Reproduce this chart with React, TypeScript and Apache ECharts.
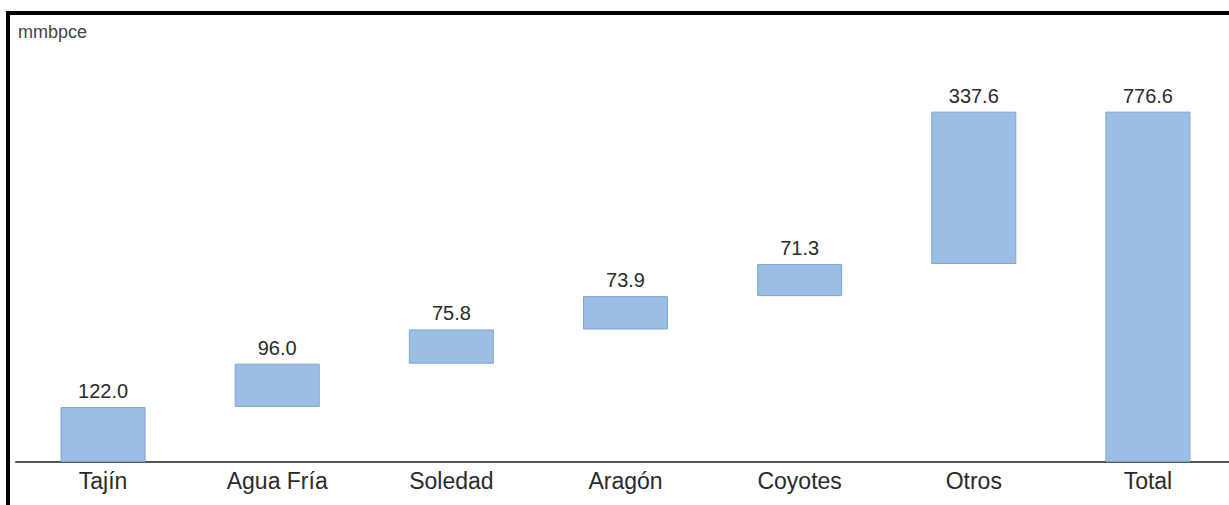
import React, { useEffect, useRef } from "react";
import * as echarts from "echarts";

const categories = ["Tajín", "Agua Fría", "Soledad", "Aragón", "Coyotes", "Otros", "Total"];
const values = [122.0, 96.0, 75.8, 73.9, 71.3, 337.6, 776.6];
const isTotal = [false, false, false, false, false, false, true];
const unitLabel = "mmbpce";

export default function App() {
  const ref = useRef<HTMLDivElement>(null);
  useEffect(() => {
    if (!ref.current) return;
    const chart = echarts.init(ref.current, undefined, { renderer: "svg" });
    const bases: number[] = [];
    let run = 0;
    values.forEach((v, i) => {
      if (isTotal[i]) {
        bases.push(0);
      } else {
        bases.push(run);
        run += v;
      }
    });
    chart.setOption({
      animation: false,
      grid: { left: 16, top: 56, bottom: 43, width: 1219 },
      graphic: [
        { type: "rect", shape: { x: 6, y: 11, width: 1240, height: 4 }, style: { fill: "#000" } },
        { type: "rect", shape: { x: 6, y: 11, width: 4, height: 500 }, style: { fill: "#000" } },
        {
          type: "text",
          left: 18,
          top: 23,
          style: { text: unitLabel, fill: "#444", font: "18px 'Liberation Sans', Arial, sans-serif" },
        },
      ],
      xAxis: {
        type: "category",
        data: categories,
        axisLine: { show: true, lineStyle: { color: "#555", width: 2 } },
        axisTick: { show: false },
        axisLabel: {
          color: "#2a2a2a",
          fontSize: 23,
          fontFamily: "'Liberation Sans', Arial, sans-serif",
          margin: 7,
        },
      },
      yAxis: {
        type: "value",
        min: 0,
        max: 900,
        show: false,
        splitLine: { show: false },
      },
      series: [
        {
          type: "bar",
          stack: "w",
          data: bases,
          itemStyle: { color: "transparent" },
          barWidth: 85,
          silent: true,
        },
        {
          type: "bar",
          stack: "w",
          data: values,
          barWidth: 85,
          itemStyle: { color: "#9bbfe4", borderColor: "#7ea5d2", borderWidth: 1 },
          label: {
            show: true,
            position: "top",
            distance: 6,
            color: "#2a2a2a",
            fontSize: 20,
            fontFamily: "'Liberation Sans', Arial, sans-serif",
            formatter: (p: any) => Number(p.value).toFixed(1),
          },
        },
      ],
    });
    return () => chart.dispose();
  }, []);
  return (
    <div
      ref={ref}
      style={{ position: "fixed", left: 0, top: 0, width: 1240, height: 505, background: "#fff" }}
    />
  );
}
